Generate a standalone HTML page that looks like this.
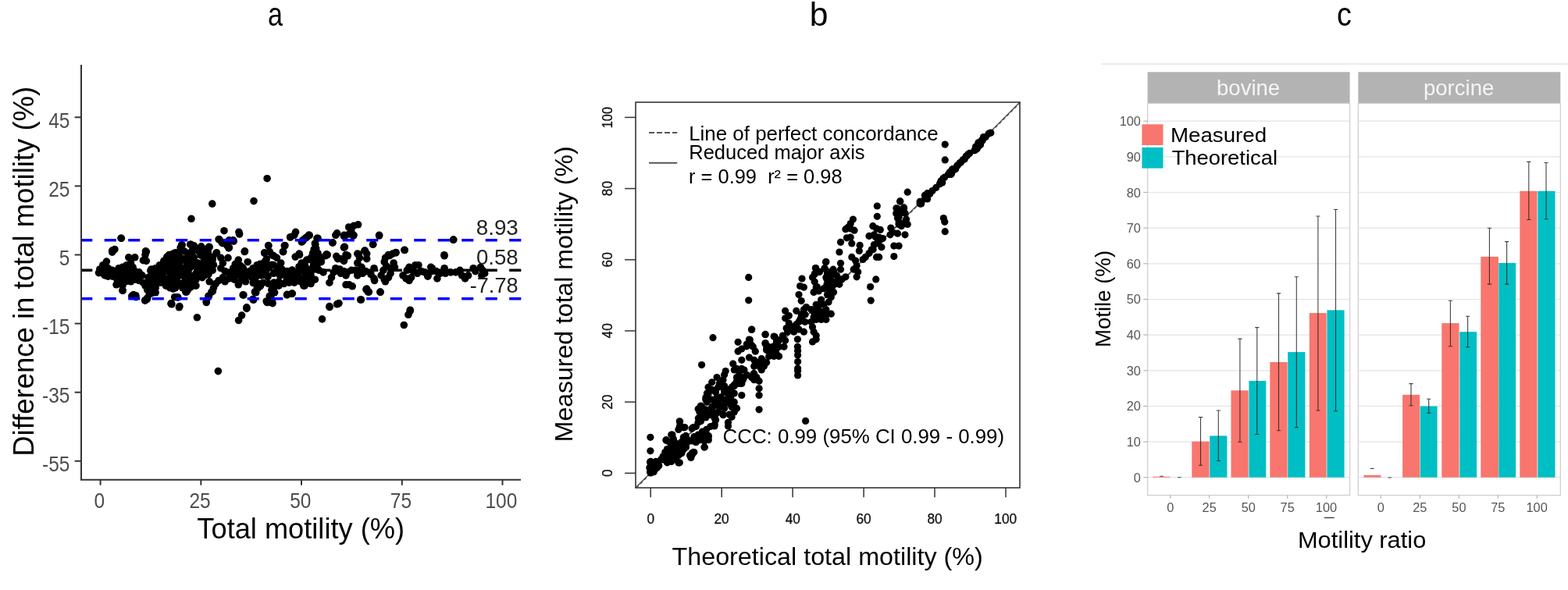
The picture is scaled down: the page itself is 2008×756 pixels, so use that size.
<!DOCTYPE html>
<html><head><meta charset="utf-8"><style>
html,body{margin:0;padding:0;background:#fff;width:2008px;height:756px;overflow:hidden;}
svg{display:block;}
text{font-family:"Liberation Sans",Arial,sans-serif;}
</style></head><body>
<svg width="2008" height="756" viewBox="0 0 2008 756">
<rect width="2008" height="756" fill="#fff"/>
<text x="343.06" y="33.40" font-size="43" textLength="18.98" lengthAdjust="spacingAndGlyphs" fill="#000">a</text>
<text x="1036.73" y="33.40" font-size="43" textLength="23.73" lengthAdjust="spacingAndGlyphs" fill="#000">b</text>
<text x="1712.10" y="33.40" font-size="43" textLength="18.84" lengthAdjust="spacingAndGlyphs" fill="#000">c</text>
<g fill="#000"><circle cx="342.1" cy="228.7" r="4.8"/><circle cx="325.0" cy="257.6" r="4.8"/><circle cx="271.8" cy="261.1" r="4.8"/><circle cx="245.0" cy="280.3" r="4.8"/><circle cx="287.0" cy="295.7" r="4.8"/><circle cx="305.9" cy="297.3" r="4.8"/><circle cx="155.1" cy="305.2" r="4.8"/><circle cx="378.6" cy="297.3" r="4.8"/><circle cx="372.3" cy="303.7" r="4.8"/><circle cx="396.1" cy="301.7" r="4.8"/><circle cx="388.1" cy="308.4" r="4.8"/><circle cx="281.0" cy="306.8" r="4.8"/><circle cx="285.0" cy="311.6" r="4.8"/><circle cx="292.9" cy="310.0" r="4.8"/><circle cx="299.2" cy="309.2" r="4.8"/><circle cx="292.9" cy="317.9" r="4.8"/><circle cx="313.5" cy="321.9" r="4.8"/><circle cx="343.7" cy="314.8" r="4.8"/><circle cx="338.9" cy="324.3" r="4.8"/><circle cx="348.4" cy="326.7" r="4.8"/><circle cx="364.3" cy="314.8" r="4.8"/><circle cx="362.7" cy="322.7" r="4.8"/><circle cx="143.7" cy="321.1" r="4.8"/><circle cx="146.9" cy="319.5" r="4.8"/><circle cx="186.5" cy="321.9" r="4.8"/><circle cx="232.6" cy="314.0" r="4.8"/><circle cx="243.7" cy="313.2" r="4.8"/><circle cx="248.4" cy="314.8" r="4.8"/><circle cx="246.9" cy="321.1" r="4.8"/><circle cx="256.4" cy="317.9" r="4.8"/><circle cx="262.7" cy="319.5" r="4.8"/><circle cx="267.5" cy="316.3" r="4.8"/><circle cx="242.1" cy="324.3" r="4.8"/><circle cx="227.8" cy="324.3" r="4.8"/><circle cx="277.0" cy="324.3" r="4.8"/><circle cx="458.6" cy="287.8" r="4.8"/><circle cx="453.0" cy="289.4" r="4.8"/><circle cx="446.7" cy="291.0" r="4.8"/><circle cx="449.8" cy="295.7" r="4.8"/><circle cx="453.0" cy="301.3" r="4.8"/><circle cx="441.9" cy="302.1" r="4.8"/><circle cx="431.6" cy="298.9" r="4.8"/><circle cx="485.6" cy="301.3" r="4.8"/><circle cx="580.8" cy="307.1" r="4.8"/><circle cx="395.9" cy="301.3" r="4.8"/><circle cx="391.1" cy="305.2" r="4.8"/><circle cx="386.3" cy="310.0" r="4.8"/><circle cx="407.0" cy="305.2" r="4.8"/><circle cx="403.8" cy="313.2" r="4.8"/><circle cx="402.2" cy="319.5" r="4.8"/><circle cx="400.6" cy="324.3" r="4.8"/><circle cx="407.0" cy="324.3" r="4.8"/><circle cx="426.0" cy="310.8" r="4.8"/><circle cx="441.1" cy="316.3" r="4.8"/><circle cx="477.6" cy="313.2" r="4.8"/><circle cx="467.3" cy="321.1" r="4.8"/><circle cx="459.4" cy="325.9" r="4.8"/><circle cx="445.1" cy="327.5" r="4.8"/><circle cx="518.1" cy="320.3" r="4.8"/><circle cx="507.0" cy="323.5" r="4.8"/><circle cx="499.0" cy="327.5" r="4.8"/><circle cx="568.9" cy="326.7" r="4.8"/><circle cx="418.1" cy="325.9" r="4.8"/><circle cx="383.2" cy="325.1" r="4.8"/><circle cx="430.8" cy="328.3" r="4.8"/><circle cx="155.3" cy="305.3" r="4.8"/><circle cx="145.0" cy="321.2" r="4.8"/><circle cx="143.7" cy="323.1" r="4.8"/><circle cx="187.3" cy="322.5" r="4.8"/><circle cx="186.0" cy="326.5" r="4.8"/><circle cx="183.4" cy="333.7" r="4.8"/><circle cx="187.3" cy="334.4" r="4.8"/><circle cx="164.8" cy="329.8" r="4.8"/><circle cx="172.8" cy="329.8" r="4.8"/><circle cx="136.4" cy="335.1" r="4.8"/><circle cx="131.8" cy="339.7" r="4.8"/><circle cx="127.8" cy="345.0" r="4.8"/><circle cx="126.5" cy="349.6" r="4.8"/><circle cx="130.5" cy="348.9" r="4.8"/><circle cx="134.4" cy="352.9" r="4.8"/><circle cx="138.4" cy="354.2" r="4.8"/><circle cx="134.4" cy="342.3" r="4.8"/><circle cx="138.4" cy="343.7" r="4.8"/><circle cx="143.7" cy="346.3" r="4.8"/><circle cx="147.7" cy="352.9" r="4.8"/><circle cx="150.3" cy="359.5" r="4.8"/><circle cx="149.0" cy="364.8" r="4.8"/><circle cx="156.9" cy="366.1" r="4.8"/><circle cx="160.9" cy="360.8" r="4.8"/><circle cx="154.3" cy="358.2" r="4.8"/><circle cx="156.9" cy="342.3" r="4.8"/><circle cx="162.2" cy="339.7" r="4.8"/><circle cx="167.5" cy="337.0" r="4.8"/><circle cx="170.1" cy="342.3" r="4.8"/><circle cx="164.8" cy="346.3" r="4.8"/><circle cx="159.6" cy="350.3" r="4.8"/><circle cx="167.5" cy="352.9" r="4.8"/><circle cx="172.8" cy="347.6" r="4.8"/><circle cx="178.1" cy="348.9" r="4.8"/><circle cx="182.0" cy="352.9" r="4.8"/><circle cx="174.1" cy="356.9" r="4.8"/><circle cx="167.5" cy="360.8" r="4.8"/><circle cx="178.1" cy="359.5" r="4.8"/><circle cx="183.4" cy="362.2" r="4.8"/><circle cx="186.0" cy="366.1" r="4.8"/><circle cx="188.7" cy="371.4" r="4.8"/><circle cx="191.3" cy="376.7" r="4.8"/><circle cx="196.6" cy="374.1" r="4.8"/><circle cx="199.2" cy="368.8" r="4.8"/><circle cx="193.9" cy="366.1" r="4.8"/><circle cx="191.3" cy="360.8" r="4.8"/><circle cx="190.0" cy="355.6" r="4.8"/><circle cx="193.9" cy="352.9" r="4.8"/><circle cx="193.9" cy="345.0" r="4.8"/><circle cx="199.2" cy="343.7" r="4.8"/><circle cx="204.5" cy="339.7" r="4.8"/><circle cx="209.8" cy="334.4" r="4.8"/><circle cx="213.8" cy="329.1" r="4.8"/><circle cx="217.8" cy="326.5" r="4.8"/><circle cx="221.7" cy="325.1" r="4.8"/><circle cx="216.4" cy="334.4" r="4.8"/><circle cx="220.4" cy="339.7" r="4.8"/><circle cx="212.5" cy="345.0" r="4.8"/><circle cx="207.2" cy="347.6" r="4.8"/><circle cx="204.5" cy="352.9" r="4.8"/><circle cx="209.8" cy="355.6" r="4.8"/><circle cx="215.1" cy="360.8" r="4.8"/><circle cx="212.5" cy="366.1" r="4.8"/><circle cx="217.8" cy="368.8" r="4.8"/><circle cx="221.7" cy="370.1" r="4.8"/><circle cx="204.5" cy="362.2" r="4.8"/><circle cx="199.2" cy="360.8" r="4.8"/><circle cx="156.9" cy="372.1" r="4.8"/><circle cx="171.5" cy="378.0" r="4.8"/><circle cx="168.8" cy="379.4" r="4.8"/><circle cx="174.1" cy="380.7" r="4.8"/><circle cx="186.0" cy="384.7" r="4.8"/><circle cx="188.7" cy="382.0" r="4.8"/><circle cx="219.1" cy="389.3" r="4.8"/><circle cx="223.7" cy="380.7" r="4.8"/><circle cx="233.2" cy="313.9" r="4.8"/><circle cx="244.4" cy="313.2" r="4.8"/><circle cx="248.4" cy="315.9" r="4.8"/><circle cx="257.7" cy="315.9" r="4.8"/><circle cx="268.2" cy="316.5" r="4.8"/><circle cx="227.2" cy="323.8" r="4.8"/><circle cx="221.9" cy="326.5" r="4.8"/><circle cx="216.6" cy="327.8" r="4.8"/><circle cx="266.9" cy="326.5" r="4.8"/><circle cx="272.2" cy="333.1" r="4.8"/><circle cx="273.5" cy="339.7" r="4.8"/><circle cx="272.2" cy="346.3" r="4.8"/><circle cx="266.9" cy="351.6" r="4.8"/><circle cx="261.6" cy="352.9" r="4.8"/><circle cx="253.7" cy="352.9" r="4.8"/><circle cx="248.4" cy="355.6" r="4.8"/><circle cx="240.5" cy="352.9" r="4.8"/><circle cx="233.8" cy="352.9" r="4.8"/><circle cx="227.2" cy="355.6" r="4.8"/><circle cx="221.9" cy="359.5" r="4.8"/><circle cx="218.0" cy="363.5" r="4.8"/><circle cx="214.0" cy="366.1" r="4.8"/><circle cx="220.6" cy="339.7" r="4.8"/><circle cx="229.9" cy="337.0" r="4.8"/><circle cx="240.5" cy="339.7" r="4.8"/><circle cx="251.0" cy="339.7" r="4.8"/><circle cx="260.3" cy="339.7" r="4.8"/><circle cx="227.2" cy="346.3" r="4.8"/><circle cx="240.5" cy="346.3" r="4.8"/><circle cx="253.7" cy="346.3" r="4.8"/><circle cx="264.3" cy="343.7" r="4.8"/><circle cx="216.6" cy="334.4" r="4.8"/><circle cx="221.9" cy="331.7" r="4.8"/><circle cx="240.5" cy="329.1" r="4.8"/><circle cx="248.4" cy="330.4" r="4.8"/><circle cx="233.8" cy="331.7" r="4.8"/><circle cx="226.0" cy="330.0" r="4.8"/><circle cx="257.0" cy="327.0" r="4.8"/><circle cx="262.0" cy="332.0" r="4.8"/><circle cx="246.0" cy="322.0" r="4.8"/><circle cx="236.0" cy="322.0" r="4.8"/><circle cx="229.9" cy="363.5" r="4.8"/><circle cx="224.6" cy="368.8" r="4.8"/><circle cx="221.9" cy="367.5" r="4.8"/><circle cx="237.8" cy="360.8" r="4.8"/><circle cx="245.7" cy="359.5" r="4.8"/><circle cx="247.1" cy="366.1" r="4.8"/><circle cx="251.0" cy="366.1" r="4.8"/><circle cx="240.5" cy="371.4" r="4.8"/><circle cx="237.8" cy="374.1" r="4.8"/><circle cx="233.8" cy="368.8" r="4.8"/><circle cx="227.2" cy="380.7" r="4.8"/><circle cx="219.3" cy="388.6" r="4.8"/><circle cx="229.9" cy="392.6" r="4.8"/><circle cx="264.3" cy="386.0" r="4.8"/><circle cx="266.9" cy="379.4" r="4.8"/><circle cx="270.9" cy="374.1" r="4.8"/><circle cx="273.5" cy="368.8" r="4.8"/><circle cx="276.2" cy="363.5" r="4.8"/><circle cx="268.2" cy="360.8" r="4.8"/><circle cx="277.5" cy="323.8" r="4.8"/><circle cx="282.8" cy="330.4" r="4.8"/><circle cx="292.0" cy="330.4" r="4.8"/><circle cx="285.4" cy="337.0" r="4.8"/><circle cx="282.8" cy="343.7" r="4.8"/><circle cx="288.1" cy="347.6" r="4.8"/><circle cx="293.4" cy="350.3" r="4.8"/><circle cx="285.4" cy="355.6" r="4.8"/><circle cx="280.1" cy="359.5" r="4.8"/><circle cx="288.1" cy="360.8" r="4.8"/><circle cx="293.4" cy="356.9" r="4.8"/><circle cx="280.1" cy="306.6" r="4.8"/><circle cx="284.1" cy="310.6" r="4.8"/><circle cx="293.4" cy="307.9" r="4.8"/><circle cx="298.7" cy="307.9" r="4.8"/><circle cx="293.4" cy="317.2" r="4.8"/><circle cx="290.7" cy="314.6" r="4.8"/><circle cx="313.2" cy="322.5" r="4.8"/><circle cx="305.3" cy="333.1" r="4.8"/><circle cx="301.3" cy="338.4" r="4.8"/><circle cx="298.7" cy="343.7" r="4.8"/><circle cx="306.6" cy="341.0" r="4.8"/><circle cx="317.2" cy="335.7" r="4.8"/><circle cx="311.9" cy="345.0" r="4.8"/><circle cx="306.6" cy="348.9" r="4.8"/><circle cx="301.3" cy="352.9" r="4.8"/><circle cx="298.7" cy="350.3" r="4.8"/><circle cx="309.2" cy="355.6" r="4.8"/><circle cx="317.2" cy="352.9" r="4.8"/><circle cx="322.5" cy="355.6" r="4.8"/><circle cx="327.8" cy="352.9" r="4.8"/><circle cx="330.4" cy="342.3" r="4.8"/><circle cx="333.0" cy="338.4" r="4.8"/><circle cx="325.1" cy="347.6" r="4.8"/><circle cx="319.8" cy="347.6" r="4.8"/><circle cx="314.5" cy="360.8" r="4.8"/><circle cx="305.3" cy="364.8" r="4.8"/><circle cx="300.0" cy="358.2" r="4.8"/><circle cx="311.9" cy="378.0" r="4.8"/><circle cx="315.9" cy="393.9" r="4.8"/><circle cx="323.8" cy="383.3" r="4.8"/><circle cx="326.4" cy="374.1" r="4.8"/><circle cx="330.4" cy="368.8" r="4.8"/><circle cx="329.1" cy="363.5" r="4.8"/><circle cx="306.6" cy="300.0" r="4.8"/><circle cx="371.6" cy="304.0" r="4.8"/><circle cx="376.9" cy="301.3" r="4.8"/><circle cx="387.5" cy="307.9" r="4.8"/><circle cx="392.8" cy="304.0" r="4.8"/><circle cx="395.4" cy="301.3" r="4.8"/><circle cx="406.0" cy="305.3" r="4.8"/><circle cx="403.4" cy="311.9" r="4.8"/><circle cx="404.7" cy="318.5" r="4.8"/><circle cx="402.0" cy="323.8" r="4.8"/><circle cx="425.9" cy="311.2" r="4.8"/><circle cx="429.8" cy="301.3" r="4.8"/><circle cx="440.4" cy="302.6" r="4.8"/><circle cx="440.4" cy="317.2" r="4.8"/><circle cx="443.0" cy="326.5" r="4.8"/><circle cx="432.5" cy="331.7" r="4.8"/><circle cx="440.4" cy="334.4" r="4.8"/><circle cx="343.8" cy="314.6" r="4.8"/><circle cx="338.6" cy="323.8" r="4.8"/><circle cx="345.2" cy="322.5" r="4.8"/><circle cx="350.5" cy="327.8" r="4.8"/><circle cx="354.4" cy="330.4" r="4.8"/><circle cx="359.7" cy="337.0" r="4.8"/><circle cx="365.0" cy="314.6" r="4.8"/><circle cx="362.4" cy="322.5" r="4.8"/><circle cx="378.2" cy="329.1" r="4.8"/><circle cx="383.5" cy="326.5" r="4.8"/><circle cx="386.2" cy="337.0" r="4.8"/><circle cx="392.8" cy="333.1" r="4.8"/><circle cx="398.1" cy="330.4" r="4.8"/><circle cx="403.4" cy="326.5" r="4.8"/><circle cx="408.7" cy="329.1" r="4.8"/><circle cx="416.6" cy="327.8" r="4.8"/><circle cx="419.2" cy="326.5" r="4.8"/><circle cx="411.3" cy="335.7" r="4.8"/><circle cx="406.0" cy="339.7" r="4.8"/><circle cx="400.7" cy="342.3" r="4.8"/><circle cx="324.0" cy="343.7" r="4.8"/><circle cx="329.3" cy="339.7" r="4.8"/><circle cx="334.6" cy="339.7" r="4.8"/><circle cx="337.2" cy="346.3" r="4.8"/><circle cx="343.8" cy="343.7" r="4.8"/><circle cx="350.5" cy="339.7" r="4.8"/><circle cx="355.7" cy="343.7" r="4.8"/><circle cx="361.0" cy="345.0" r="4.8"/><circle cx="367.7" cy="347.6" r="4.8"/><circle cx="374.3" cy="348.9" r="4.8"/><circle cx="380.9" cy="348.9" r="4.8"/><circle cx="386.2" cy="346.3" r="4.8"/><circle cx="392.8" cy="345.0" r="4.8"/><circle cx="398.1" cy="346.3" r="4.8"/><circle cx="403.4" cy="345.0" r="4.8"/><circle cx="408.7" cy="346.3" r="4.8"/><circle cx="414.0" cy="348.9" r="4.8"/><circle cx="326.6" cy="352.9" r="4.8"/><circle cx="334.6" cy="352.9" r="4.8"/><circle cx="342.5" cy="352.9" r="4.8"/><circle cx="350.5" cy="350.3" r="4.8"/><circle cx="358.4" cy="352.9" r="4.8"/><circle cx="366.3" cy="352.9" r="4.8"/><circle cx="374.3" cy="355.6" r="4.8"/><circle cx="382.2" cy="354.2" r="4.8"/><circle cx="390.1" cy="355.6" r="4.8"/><circle cx="398.1" cy="354.2" r="4.8"/><circle cx="403.4" cy="358.2" r="4.8"/><circle cx="395.4" cy="362.2" r="4.8"/><circle cx="390.1" cy="366.1" r="4.8"/><circle cx="384.8" cy="360.8" r="4.8"/><circle cx="331.9" cy="363.5" r="4.8"/><circle cx="329.3" cy="368.8" r="4.8"/><circle cx="326.6" cy="374.1" r="4.8"/><circle cx="337.2" cy="362.2" r="4.8"/><circle cx="343.8" cy="363.5" r="4.8"/><circle cx="350.5" cy="366.1" r="4.8"/><circle cx="357.1" cy="366.1" r="4.8"/><circle cx="363.7" cy="363.5" r="4.8"/><circle cx="370.3" cy="362.2" r="4.8"/><circle cx="376.9" cy="362.2" r="4.8"/><circle cx="357.1" cy="360.8" r="4.8"/><circle cx="347.8" cy="371.4" r="4.8"/><circle cx="345.2" cy="379.4" r="4.8"/><circle cx="341.2" cy="386.0" r="4.8"/><circle cx="349.1" cy="388.6" r="4.8"/><circle cx="346.5" cy="387.3" r="4.8"/><circle cx="367.7" cy="377.4" r="4.8"/><circle cx="374.3" cy="376.1" r="4.8"/><circle cx="388.8" cy="366.1" r="4.8"/><circle cx="398.1" cy="363.5" r="4.8"/><circle cx="421.9" cy="362.2" r="4.8"/><circle cx="424.5" cy="355.6" r="4.8"/><circle cx="427.2" cy="348.9" r="4.8"/><circle cx="429.8" cy="343.7" r="4.8"/><circle cx="435.1" cy="345.0" r="4.8"/><circle cx="440.4" cy="347.6" r="4.8"/><circle cx="443.0" cy="352.9" r="4.8"/><circle cx="436.4" cy="350.3" r="4.8"/><circle cx="443.0" cy="364.8" r="4.8"/><circle cx="421.9" cy="392.6" r="4.8"/><circle cx="432.5" cy="389.3" r="4.8"/><circle cx="440.6" cy="301.3" r="4.8"/><circle cx="452.5" cy="302.0" r="4.8"/><circle cx="447.2" cy="300.0" r="4.8"/><circle cx="485.6" cy="302.0" r="4.8"/><circle cx="477.7" cy="313.2" r="4.8"/><circle cx="441.3" cy="316.5" r="4.8"/><circle cx="445.2" cy="327.8" r="4.8"/><circle cx="440.6" cy="333.1" r="4.8"/><circle cx="436.6" cy="331.7" r="4.8"/><circle cx="457.8" cy="325.1" r="4.8"/><circle cx="467.1" cy="321.2" r="4.8"/><circle cx="469.7" cy="325.1" r="4.8"/><circle cx="469.7" cy="331.7" r="4.8"/><circle cx="460.5" cy="330.4" r="4.8"/><circle cx="457.8" cy="337.0" r="4.8"/><circle cx="463.1" cy="342.3" r="4.8"/><circle cx="460.5" cy="346.3" r="4.8"/><circle cx="455.2" cy="346.3" r="4.8"/><circle cx="449.9" cy="346.3" r="4.8"/><circle cx="444.6" cy="348.9" r="4.8"/><circle cx="439.3" cy="348.9" r="4.8"/><circle cx="434.0" cy="347.6" r="4.8"/><circle cx="457.8" cy="352.9" r="4.8"/><circle cx="464.4" cy="350.3" r="4.8"/><circle cx="468.4" cy="347.6" r="4.8"/><circle cx="479.0" cy="343.7" r="4.8"/><circle cx="475.0" cy="351.6" r="4.8"/><circle cx="479.0" cy="356.9" r="4.8"/><circle cx="479.6" cy="359.5" r="4.8"/><circle cx="447.2" cy="364.8" r="4.8"/><circle cx="451.2" cy="366.8" r="4.8"/><circle cx="469.7" cy="370.1" r="4.8"/><circle cx="472.4" cy="374.1" r="4.8"/><circle cx="486.9" cy="374.1" r="4.8"/><circle cx="462.4" cy="384.0" r="4.8"/><circle cx="434.0" cy="388.6" r="4.8"/><circle cx="493.5" cy="330.4" r="4.8"/><circle cx="497.5" cy="326.5" r="4.8"/><circle cx="502.8" cy="325.1" r="4.8"/><circle cx="506.8" cy="323.8" r="4.8"/><circle cx="492.2" cy="335.7" r="4.8"/><circle cx="494.8" cy="341.0" r="4.8"/><circle cx="490.9" cy="346.3" r="4.8"/><circle cx="488.2" cy="352.9" r="4.8"/><circle cx="492.2" cy="358.2" r="4.8"/><circle cx="493.5" cy="360.8" r="4.8"/><circle cx="497.5" cy="355.6" r="4.8"/><circle cx="500.1" cy="350.3" r="4.8"/><circle cx="504.1" cy="337.0" r="4.8"/><circle cx="505.4" cy="342.3" r="4.8"/><circle cx="500.1" cy="343.7" r="4.8"/><circle cx="518.0" cy="320.5" r="4.8"/><circle cx="524.0" cy="342.3" r="4.8"/><circle cx="531.9" cy="339.7" r="4.8"/><circle cx="535.9" cy="339.7" r="4.8"/><circle cx="529.2" cy="347.6" r="4.8"/><circle cx="521.3" cy="346.3" r="4.8"/><circle cx="516.0" cy="352.9" r="4.8"/><circle cx="520.0" cy="356.9" r="4.8"/><circle cx="524.0" cy="359.5" r="4.8"/><circle cx="526.6" cy="355.6" r="4.8"/><circle cx="534.5" cy="350.3" r="4.8"/><circle cx="539.8" cy="347.6" r="4.8"/><circle cx="546.4" cy="350.3" r="4.8"/><circle cx="547.8" cy="354.2" r="4.8"/><circle cx="551.7" cy="342.3" r="4.8"/><circle cx="553.0" cy="347.6" r="4.8"/><circle cx="525.3" cy="397.2" r="4.8"/><circle cx="580.4" cy="307.3" r="4.8"/><circle cx="569.1" cy="327.8" r="4.8"/><circle cx="544.0" cy="348.9" r="4.8"/><circle cx="548.0" cy="352.9" r="4.8"/><circle cx="553.3" cy="343.7" r="4.8"/><circle cx="558.6" cy="347.6" r="4.8"/><circle cx="559.9" cy="356.9" r="4.8"/><circle cx="563.8" cy="350.3" r="4.8"/><circle cx="569.1" cy="343.7" r="4.8"/><circle cx="570.5" cy="350.3" r="4.8"/><circle cx="577.1" cy="348.9" r="4.8"/><circle cx="583.7" cy="348.9" r="4.8"/><circle cx="589.0" cy="346.3" r="4.8"/><circle cx="591.6" cy="352.9" r="4.8"/><circle cx="595.6" cy="356.9" r="4.8"/><circle cx="599.6" cy="352.9" r="4.8"/><circle cx="606.2" cy="343.7" r="4.8"/><circle cx="608.8" cy="347.6" r="4.8"/><circle cx="615.4" cy="342.3" r="4.8"/><circle cx="618.1" cy="346.3" r="4.8"/><circle cx="620.7" cy="350.3" r="4.8"/><circle cx="616.8" cy="352.9" r="4.8"/><circle cx="157.2" cy="372.4" r="4.8"/><circle cx="170.7" cy="377.9" r="4.8"/><circle cx="173.8" cy="378.7" r="4.8"/><circle cx="185.7" cy="385.1" r="4.8"/><circle cx="188.1" cy="383.5" r="4.8"/><circle cx="194.5" cy="375.6" r="4.8"/><circle cx="199.2" cy="374.8" r="4.8"/><circle cx="219.9" cy="389.8" r="4.8"/><circle cx="229.4" cy="393.8" r="4.8"/><circle cx="227.8" cy="381.1" r="4.8"/><circle cx="238.9" cy="374.0" r="4.8"/><circle cx="252.4" cy="406.8" r="4.8"/><circle cx="264.3" cy="387.5" r="4.8"/><circle cx="267.5" cy="379.5" r="4.8"/><circle cx="272.3" cy="373.2" r="4.8"/><circle cx="279.4" cy="475.6" r="4.8"/><circle cx="311.1" cy="377.9" r="4.8"/><circle cx="315.9" cy="395.4" r="4.8"/><circle cx="309.6" cy="404.1" r="4.8"/><circle cx="305.6" cy="410.5" r="4.8"/><circle cx="324.6" cy="384.3" r="4.8"/><circle cx="327.8" cy="374.8" r="4.8"/><circle cx="342.1" cy="387.5" r="4.8"/><circle cx="348.4" cy="385.9" r="4.8"/><circle cx="346.9" cy="379.5" r="4.8"/><circle cx="351.6" cy="374.8" r="4.8"/><circle cx="367.5" cy="377.9" r="4.8"/><circle cx="373.8" cy="376.3" r="4.8"/><circle cx="412.5" cy="408.9" r="4.8"/><circle cx="422.1" cy="393.5" r="4.8"/><circle cx="431.6" cy="389.8" r="4.8"/><circle cx="461.7" cy="384.0" r="4.8"/><circle cx="471.3" cy="374.0" r="4.8"/><circle cx="468.9" cy="370.8" r="4.8"/><circle cx="487.1" cy="374.4" r="4.8"/><circle cx="525.2" cy="398.6" r="4.8"/><circle cx="522.9" cy="403.3" r="4.8"/><circle cx="517.3" cy="416.5" r="4.8"/><circle cx="221.9" cy="333.1" r="4.8"/><circle cx="229.9" cy="330.4" r="4.8"/><circle cx="237.8" cy="334.4" r="4.8"/><circle cx="245.7" cy="334.4" r="4.8"/><circle cx="253.7" cy="337.0" r="4.8"/><circle cx="261.6" cy="339.7" r="4.8"/><circle cx="269.6" cy="339.7" r="4.8"/><circle cx="221.9" cy="339.7" r="4.8"/><circle cx="229.9" cy="343.7" r="4.8"/><circle cx="237.8" cy="342.3" r="4.8"/><circle cx="245.7" cy="341.0" r="4.8"/><circle cx="253.7" cy="343.7" r="4.8"/><circle cx="261.6" cy="346.3" r="4.8"/><circle cx="269.6" cy="343.7" r="4.8"/><circle cx="219.3" cy="352.9" r="4.8"/><circle cx="227.2" cy="351.6" r="4.8"/><circle cx="235.2" cy="351.6" r="4.8"/><circle cx="243.1" cy="352.9" r="4.8"/><circle cx="251.0" cy="350.3" r="4.8"/><circle cx="259.0" cy="351.6" r="4.8"/><circle cx="266.9" cy="350.3" r="4.8"/><circle cx="218.0" cy="359.5" r="4.8"/><circle cx="243.1" cy="360.8" r="4.8"/><circle cx="251.0" cy="358.2" r="4.8"/><circle cx="259.0" cy="355.6" r="4.8"/><circle cx="221.9" cy="368.8" r="4.8"/><circle cx="240.5" cy="368.8" r="4.8"/><circle cx="248.4" cy="363.5" r="4.8"/><circle cx="216.6" cy="326.5" r="4.8"/><circle cx="224.6" cy="323.8" r="4.8"/><circle cx="231.2" cy="317.2" r="4.8"/><circle cx="247.1" cy="319.8" r="4.8"/><circle cx="262.9" cy="322.5" r="4.8"/><circle cx="269.6" cy="333.1" r="4.8"/><circle cx="215.3" cy="347.6" r="4.8"/><circle cx="233.8" cy="363.5" r="4.8"/><circle cx="132.1" cy="350.6" r="4.8"/><circle cx="130.1" cy="347.1" r="4.8"/><circle cx="221.7" cy="328.7" r="4.8"/><circle cx="210.2" cy="340.2" r="4.8"/><circle cx="144.1" cy="354.2" r="4.8"/><circle cx="192.8" cy="346.8" r="4.8"/><circle cx="157.1" cy="354.3" r="4.8"/><circle cx="203.9" cy="359.7" r="4.8"/><circle cx="150.3" cy="353.8" r="4.8"/><circle cx="222.0" cy="332.1" r="4.8"/><circle cx="141.3" cy="349.7" r="4.8"/><circle cx="201.0" cy="353.7" r="4.8"/><circle cx="211.8" cy="341.4" r="4.8"/><circle cx="194.3" cy="354.8" r="4.8"/><circle cx="172.7" cy="358.1" r="4.8"/><circle cx="206.6" cy="340.0" r="4.8"/><circle cx="164.1" cy="358.3" r="4.8"/><circle cx="128.7" cy="348.4" r="4.8"/><circle cx="134.3" cy="347.8" r="4.8"/><circle cx="153.6" cy="346.2" r="4.8"/><circle cx="219.9" cy="333.6" r="4.8"/><circle cx="149.2" cy="349.5" r="4.8"/><circle cx="162.5" cy="353.4" r="4.8"/><circle cx="219.4" cy="359.3" r="4.8"/><circle cx="176.7" cy="355.9" r="4.8"/><circle cx="214.2" cy="363.6" r="4.8"/><circle cx="211.7" cy="364.4" r="4.8"/><circle cx="164.7" cy="345.5" r="4.8"/><circle cx="136.4" cy="343.8" r="4.8"/><circle cx="171.9" cy="349.5" r="4.8"/><circle cx="210.6" cy="359.6" r="4.8"/><circle cx="151.9" cy="343.9" r="4.8"/><circle cx="206.3" cy="361.7" r="4.8"/><circle cx="148.6" cy="351.1" r="4.8"/><circle cx="151.8" cy="359.4" r="4.8"/><circle cx="219.7" cy="347.8" r="4.8"/><circle cx="219.6" cy="343.8" r="4.8"/><circle cx="208.4" cy="349.3" r="4.8"/><circle cx="190.1" cy="364.5" r="4.8"/><circle cx="215.2" cy="363.7" r="4.8"/><circle cx="199.6" cy="349.2" r="4.8"/><circle cx="221.2" cy="345.3" r="4.8"/><circle cx="214.7" cy="364.9" r="4.8"/><circle cx="222.1" cy="357.8" r="4.8"/><circle cx="160.6" cy="352.6" r="4.8"/><circle cx="221.1" cy="357.4" r="4.8"/><circle cx="149.9" cy="354.4" r="4.8"/><circle cx="151.8" cy="346.4" r="4.8"/><circle cx="161.0" cy="348.3" r="4.8"/><circle cx="175.4" cy="351.8" r="4.8"/><circle cx="246.5" cy="315.6" r="4.8"/><circle cx="241.4" cy="325.0" r="4.8"/><circle cx="214.2" cy="360.0" r="4.8"/><circle cx="224.7" cy="341.5" r="4.8"/><circle cx="259.1" cy="346.2" r="4.8"/><circle cx="234.3" cy="344.0" r="4.8"/><circle cx="248.5" cy="359.2" r="4.8"/><circle cx="220.6" cy="346.4" r="4.8"/><circle cx="229.4" cy="330.3" r="4.8"/><circle cx="262.0" cy="343.4" r="4.8"/><circle cx="248.9" cy="357.8" r="4.8"/><circle cx="270.7" cy="339.8" r="4.8"/><circle cx="252.1" cy="343.3" r="4.8"/><circle cx="245.8" cy="354.0" r="4.8"/><circle cx="242.1" cy="344.9" r="4.8"/><circle cx="243.7" cy="368.1" r="4.8"/><circle cx="272.6" cy="329.3" r="4.8"/><circle cx="266.2" cy="322.4" r="4.8"/><circle cx="221.6" cy="339.7" r="4.8"/><circle cx="218.5" cy="328.2" r="4.8"/><circle cx="218.5" cy="352.6" r="4.8"/><circle cx="223.6" cy="355.3" r="4.8"/><circle cx="255.0" cy="322.7" r="4.8"/><circle cx="238.8" cy="342.3" r="4.8"/><circle cx="224.0" cy="339.1" r="4.8"/><circle cx="246.1" cy="333.8" r="4.8"/><circle cx="226.2" cy="332.7" r="4.8"/><circle cx="248.4" cy="339.6" r="4.8"/><circle cx="215.1" cy="333.4" r="4.8"/><circle cx="252.8" cy="343.7" r="4.8"/><circle cx="220.5" cy="329.7" r="4.8"/><circle cx="216.5" cy="358.9" r="4.8"/><circle cx="230.8" cy="321.9" r="4.8"/><circle cx="240.3" cy="366.4" r="4.8"/><circle cx="264.9" cy="329.3" r="4.8"/><circle cx="223.3" cy="366.8" r="4.8"/><circle cx="249.5" cy="354.4" r="4.8"/><circle cx="256.8" cy="338.7" r="4.8"/><circle cx="218.5" cy="367.9" r="4.8"/><circle cx="219.2" cy="363.3" r="4.8"/><circle cx="218.1" cy="363.6" r="4.8"/><circle cx="242.2" cy="333.8" r="4.8"/><circle cx="230.7" cy="321.9" r="4.8"/><circle cx="246.8" cy="328.1" r="4.8"/><circle cx="233.4" cy="331.9" r="4.8"/><circle cx="261.2" cy="331.0" r="4.8"/><circle cx="245.1" cy="324.7" r="4.8"/><circle cx="259.6" cy="345.9" r="4.8"/><circle cx="225.8" cy="341.6" r="4.8"/><circle cx="264.9" cy="339.1" r="4.8"/><circle cx="244.8" cy="362.0" r="4.8"/><circle cx="238.4" cy="343.4" r="4.8"/><circle cx="235.3" cy="361.9" r="4.8"/><circle cx="257.9" cy="350.7" r="4.8"/><circle cx="239.2" cy="334.3" r="4.8"/><circle cx="218.4" cy="356.7" r="4.8"/><circle cx="229.9" cy="323.8" r="4.8"/><circle cx="219.3" cy="362.4" r="4.8"/><circle cx="329.1" cy="353.5" r="4.8"/><circle cx="306.7" cy="340.4" r="4.8"/><circle cx="307.1" cy="347.0" r="4.8"/><circle cx="302.0" cy="346.6" r="4.8"/><circle cx="306.0" cy="362.3" r="4.8"/><circle cx="332.9" cy="349.7" r="4.8"/><circle cx="307.8" cy="343.9" r="4.8"/><circle cx="314.0" cy="348.4" r="4.8"/><circle cx="303.6" cy="348.4" r="4.8"/><circle cx="299.4" cy="345.2" r="4.8"/><circle cx="307.6" cy="340.2" r="4.8"/><circle cx="318.2" cy="349.2" r="4.8"/><circle cx="324.5" cy="353.1" r="4.8"/><circle cx="310.8" cy="343.0" r="4.8"/><circle cx="323.5" cy="352.6" r="4.8"/><circle cx="329.9" cy="352.2" r="4.8"/><circle cx="336.5" cy="352.0" r="4.8"/><circle cx="385.4" cy="359.9" r="4.8"/><circle cx="336.0" cy="344.5" r="4.8"/><circle cx="333.4" cy="366.5" r="4.8"/><circle cx="374.2" cy="356.8" r="4.8"/><circle cx="380.3" cy="359.3" r="4.8"/><circle cx="369.2" cy="352.6" r="4.8"/><circle cx="390.3" cy="339.5" r="4.8"/><circle cx="330.7" cy="340.1" r="4.8"/><circle cx="389.6" cy="337.3" r="4.8"/><circle cx="367.1" cy="359.4" r="4.8"/><circle cx="393.0" cy="356.3" r="4.8"/><circle cx="337.3" cy="339.5" r="4.8"/><circle cx="390.9" cy="341.9" r="4.8"/><circle cx="329.5" cy="340.2" r="4.8"/><circle cx="384.4" cy="359.8" r="4.8"/><circle cx="384.8" cy="341.2" r="4.8"/><circle cx="370.5" cy="349.3" r="4.8"/><circle cx="404.4" cy="337.0" r="4.8"/><circle cx="325.6" cy="349.0" r="4.8"/><circle cx="343.0" cy="354.7" r="4.8"/><circle cx="336.7" cy="352.0" r="4.8"/><circle cx="409.7" cy="333.9" r="4.8"/><circle cx="397.8" cy="351.3" r="4.8"/><circle cx="324.3" cy="350.5" r="4.8"/><circle cx="336.7" cy="343.7" r="4.8"/><circle cx="352.4" cy="366.7" r="4.8"/><circle cx="324.2" cy="362.5" r="4.8"/><circle cx="399.5" cy="333.3" r="4.8"/><circle cx="405.1" cy="341.2" r="4.8"/><circle cx="357.5" cy="346.0" r="4.8"/><circle cx="356.4" cy="347.6" r="4.8"/><circle cx="333.1" cy="366.4" r="4.8"/><circle cx="346.4" cy="340.1" r="4.8"/><circle cx="389.9" cy="348.7" r="4.8"/><circle cx="391.7" cy="357.6" r="4.8"/><circle cx="407.4" cy="333.7" r="4.8"/><circle cx="350.8" cy="362.0" r="4.8"/><circle cx="383.0" cy="341.7" r="4.8"/><circle cx="374.1" cy="346.0" r="4.8"/><circle cx="339.1" cy="335.3" r="4.8"/><circle cx="341.3" cy="332.0" r="4.8"/><circle cx="345.5" cy="339.7" r="4.8"/><circle cx="391.4" cy="346.9" r="4.8"/><circle cx="361.2" cy="352.0" r="4.8"/><circle cx="357.9" cy="343.4" r="4.8"/><circle cx="329.6" cy="340.6" r="4.8"/><circle cx="411.0" cy="333.6" r="4.8"/><circle cx="369.3" cy="356.9" r="4.8"/><circle cx="401.6" cy="337.8" r="4.8"/><circle cx="348.4" cy="339.3" r="4.8"/><circle cx="360.0" cy="348.4" r="4.8"/><circle cx="402.5" cy="328.8" r="4.8"/><circle cx="326.9" cy="360.6" r="4.8"/></g>
<g stroke-width="3.6" stroke-dasharray="15.1 15.4" fill="none">
<line x1="103.2" y1="307.8" x2="667.3" y2="307.8" stroke="#0000ff"/>
<line x1="103.2" y1="382.8" x2="667.3" y2="382.8" stroke="#0000ff"/>
<line x1="103.2" y1="346.3" x2="667.3" y2="346.3" stroke="#000"/>
</g>
<path d="M104 83V614.8H667" stroke="#333" stroke-width="2" fill="none"/>
<line x1="95.7" y1="150.3" x2="104" y2="150.3" stroke="#333" stroke-width="2"/>
<line x1="95.7" y1="238.4" x2="104" y2="238.4" stroke="#333" stroke-width="2"/>
<line x1="95.7" y1="326.5" x2="104" y2="326.5" stroke="#333" stroke-width="2"/>
<line x1="95.7" y1="414.6" x2="104" y2="414.6" stroke="#333" stroke-width="2"/>
<line x1="95.7" y1="502.7" x2="104" y2="502.7" stroke="#333" stroke-width="2"/>
<line x1="95.7" y1="590.8" x2="104" y2="590.8" stroke="#333" stroke-width="2"/>
<line x1="128.6" y1="614.8" x2="128.6" y2="621.7" stroke="#333" stroke-width="2"/>
<line x1="257.3" y1="614.8" x2="257.3" y2="621.7" stroke="#333" stroke-width="2"/>
<line x1="386.0" y1="614.8" x2="386.0" y2="621.7" stroke="#333" stroke-width="2"/>
<line x1="514.8" y1="614.8" x2="514.8" y2="621.7" stroke="#333" stroke-width="2"/>
<line x1="643.5" y1="614.8" x2="643.5" y2="621.7" stroke="#333" stroke-width="2"/>
<text x="62.19" y="163.60" font-size="28" textLength="27.25" lengthAdjust="spacingAndGlyphs" fill="#4d4d4d">45</text>
<text x="62.19" y="251.70" font-size="28" textLength="27.25" lengthAdjust="spacingAndGlyphs" fill="#4d4d4d">25</text>
<text x="75.78" y="339.80" font-size="28" textLength="13.63" lengthAdjust="spacingAndGlyphs" fill="#4d4d4d">5</text>
<text x="53.98" y="427.90" font-size="28" textLength="35.41" lengthAdjust="spacingAndGlyphs" fill="#4d4d4d">-15</text>
<text x="53.98" y="516.00" font-size="28" textLength="35.41" lengthAdjust="spacingAndGlyphs" fill="#4d4d4d">-35</text>
<text x="53.98" y="604.10" font-size="28" textLength="35.41" lengthAdjust="spacingAndGlyphs" fill="#4d4d4d">-55</text>
<text x="120.60" y="651.00" font-size="28" textLength="13.63" lengthAdjust="spacingAndGlyphs" fill="#4d4d4d">0</text>
<text x="242.41" y="651.00" font-size="28" textLength="27.25" lengthAdjust="spacingAndGlyphs" fill="#4d4d4d">25</text>
<text x="371.25" y="651.00" font-size="28" textLength="27.25" lengthAdjust="spacingAndGlyphs" fill="#4d4d4d">50</text>
<text x="499.85" y="651.00" font-size="28" textLength="27.25" lengthAdjust="spacingAndGlyphs" fill="#4d4d4d">75</text>
<text x="621.48" y="651.00" font-size="28" textLength="40.88" lengthAdjust="spacingAndGlyphs" fill="#4d4d4d">100</text>
<text x="252.38" y="690.20" font-size="36" textLength="265.66" lengthAdjust="spacingAndGlyphs" fill="#000">Total motility (%)</text>
<text transform="translate(43.40,581.90) rotate(-90)" x="-2.92" y="0" font-size="36" textLength="473.95" lengthAdjust="spacingAndGlyphs" fill="#000">Difference in total motility (%)</text>
<text x="609.75" y="301.40" font-size="27.2" textLength="54.04" lengthAdjust="spacingAndGlyphs" fill="#222">8.93</text>
<text x="609.90" y="338.80" font-size="27.2" textLength="53.75" lengthAdjust="spacingAndGlyphs" fill="#222">0.58</text>
<text x="601.78" y="374.80" font-size="27.2" textLength="61.79" lengthAdjust="spacingAndGlyphs" fill="#222">-7.78</text>
<line x1="815.2" y1="625" x2="1306" y2="132.2" stroke="#666" stroke-width="1.3" stroke-dasharray="4 3"/>
<line x1="814" y1="625" x2="1306" y2="131" stroke="#444" stroke-width="1.3"/>
<g fill="#000"><circle cx="832.9" cy="560.3" r="4.6"/><circle cx="832.9" cy="577.8" r="4.6"/><circle cx="832.5" cy="592.0" r="4.6"/><circle cx="832.5" cy="598.4" r="4.6"/><circle cx="832.5" cy="604.8" r="4.6"/><circle cx="838.8" cy="593.7" r="4.6"/><circle cx="838.8" cy="601.6" r="4.6"/><circle cx="842.0" cy="598.4" r="4.6"/><circle cx="849.1" cy="588.9" r="4.6"/><circle cx="853.1" cy="582.5" r="4.6"/><circle cx="854.7" cy="577.8" r="4.6"/><circle cx="859.4" cy="579.4" r="4.6"/><circle cx="857.1" cy="586.5" r="4.6"/><circle cx="853.1" cy="564.3" r="4.6"/><circle cx="861.0" cy="557.1" r="4.6"/><circle cx="862.6" cy="566.7" r="4.6"/><circle cx="867.4" cy="574.6" r="4.6"/><circle cx="869.0" cy="581.0" r="4.6"/><circle cx="864.2" cy="585.7" r="4.6"/><circle cx="869.0" cy="592.9" r="4.6"/><circle cx="870.6" cy="540.5" r="4.6"/><circle cx="872.1" cy="547.6" r="4.6"/><circle cx="876.9" cy="547.6" r="4.6"/><circle cx="875.3" cy="560.3" r="4.6"/><circle cx="880.1" cy="566.7" r="4.6"/><circle cx="878.5" cy="573.0" r="4.6"/><circle cx="873.7" cy="577.8" r="4.6"/><circle cx="886.4" cy="582.5" r="4.6"/><circle cx="884.8" cy="586.5" r="4.6"/><circle cx="888.0" cy="579.4" r="4.6"/><circle cx="888.0" cy="547.6" r="4.6"/><circle cx="889.6" cy="560.3" r="4.6"/><circle cx="891.2" cy="566.7" r="4.6"/><circle cx="897.5" cy="563.5" r="4.6"/><circle cx="900.7" cy="557.1" r="4.6"/><circle cx="903.9" cy="561.9" r="4.6"/><circle cx="907.1" cy="560.3" r="4.6"/><circle cx="902.3" cy="573.0" r="4.6"/><circle cx="897.5" cy="520.6" r="4.6"/><circle cx="900.7" cy="528.6" r="4.6"/><circle cx="897.5" cy="539.7" r="4.6"/><circle cx="903.9" cy="534.9" r="4.6"/><circle cx="903.9" cy="509.5" r="4.6"/><circle cx="907.1" cy="504.8" r="4.6"/><circle cx="913.4" cy="500.0" r="4.6"/><circle cx="918.2" cy="509.5" r="4.6"/><circle cx="913.4" cy="520.6" r="4.6"/><circle cx="910.2" cy="531.7" r="4.6"/><circle cx="916.6" cy="538.1" r="4.6"/><circle cx="915.0" cy="546.0" r="4.6"/><circle cx="926.1" cy="531.7" r="4.6"/><circle cx="924.5" cy="520.6" r="4.6"/><circle cx="929.3" cy="515.9" r="4.6"/><circle cx="932.5" cy="504.8" r="4.6"/><circle cx="932.5" cy="546.0" r="4.6"/><circle cx="932.5" cy="541.3" r="4.6"/><circle cx="913.0" cy="432.7" r="4.6"/><circle cx="898.6" cy="467.6" r="4.6"/><circle cx="962.5" cy="422.4" r="4.6"/><circle cx="980.0" cy="428.7" r="4.6"/><circle cx="991.1" cy="431.1" r="4.6"/><circle cx="945.1" cy="438.3" r="4.6"/><circle cx="959.4" cy="435.1" r="4.6"/><circle cx="962.5" cy="442.2" r="4.6"/><circle cx="956.2" cy="443.8" r="4.6"/><circle cx="967.3" cy="450.2" r="4.6"/><circle cx="945.1" cy="450.2" r="4.6"/><circle cx="949.8" cy="447.0" r="4.6"/><circle cx="980.0" cy="440.6" r="4.6"/><circle cx="981.6" cy="448.6" r="4.6"/><circle cx="987.9" cy="451.7" r="4.6"/><circle cx="994.3" cy="447.0" r="4.6"/><circle cx="997.5" cy="435.9" r="4.6"/><circle cx="991.1" cy="456.5" r="4.6"/><circle cx="997.5" cy="456.5" r="4.6"/><circle cx="949.8" cy="461.3" r="4.6"/><circle cx="959.4" cy="458.1" r="4.6"/><circle cx="965.7" cy="461.3" r="4.6"/><circle cx="968.9" cy="467.6" r="4.6"/><circle cx="975.2" cy="459.7" r="4.6"/><circle cx="978.4" cy="469.2" r="4.6"/><circle cx="975.2" cy="474.0" r="4.6"/><circle cx="981.6" cy="464.4" r="4.6"/><circle cx="938.7" cy="466.0" r="4.6"/><circle cx="940.3" cy="474.0" r="4.6"/><circle cx="946.7" cy="475.6" r="4.6"/><circle cx="953.0" cy="474.0" r="4.6"/><circle cx="956.2" cy="480.3" r="4.6"/><circle cx="951.4" cy="486.7" r="4.6"/><circle cx="946.7" cy="491.4" r="4.6"/><circle cx="940.3" cy="494.6" r="4.6"/><circle cx="943.5" cy="483.5" r="4.6"/><circle cx="929.2" cy="475.6" r="4.6"/><circle cx="927.6" cy="480.3" r="4.6"/><circle cx="965.7" cy="478.7" r="4.6"/><circle cx="968.9" cy="483.5" r="4.6"/><circle cx="972.1" cy="488.3" r="4.6"/><circle cx="965.7" cy="486.7" r="4.6"/><circle cx="962.5" cy="483.5" r="4.6"/><circle cx="972.1" cy="497.8" r="4.6"/><circle cx="972.1" cy="506.5" r="4.6"/><circle cx="972.1" cy="524.8" r="4.6"/><circle cx="949.8" cy="506.5" r="4.6"/><circle cx="918.1" cy="483.5" r="4.6"/><circle cx="911.7" cy="489.8" r="4.6"/><circle cx="907.0" cy="496.2" r="4.6"/><circle cx="905.4" cy="504.1" r="4.6"/><circle cx="903.8" cy="512.1" r="4.6"/><circle cx="897.5" cy="520.0" r="4.6"/><circle cx="895.9" cy="527.9" r="4.6"/><circle cx="894.3" cy="535.9" r="4.6"/><circle cx="921.3" cy="491.4" r="4.6"/><circle cx="926.0" cy="486.7" r="4.6"/><circle cx="927.6" cy="494.6" r="4.6"/><circle cx="916.5" cy="502.5" r="4.6"/><circle cx="922.9" cy="508.9" r="4.6"/><circle cx="927.6" cy="502.5" r="4.6"/><circle cx="932.4" cy="499.4" r="4.6"/><circle cx="937.1" cy="496.2" r="4.6"/><circle cx="940.3" cy="504.1" r="4.6"/><circle cx="935.6" cy="508.9" r="4.6"/><circle cx="932.4" cy="515.2" r="4.6"/><circle cx="937.1" cy="521.6" r="4.6"/><circle cx="943.5" cy="523.2" r="4.6"/><circle cx="940.3" cy="515.2" r="4.6"/><circle cx="918.1" cy="515.2" r="4.6"/><circle cx="911.7" cy="521.6" r="4.6"/><circle cx="921.3" cy="521.6" r="4.6"/><circle cx="908.6" cy="531.1" r="4.6"/><circle cx="916.5" cy="531.1" r="4.6"/><circle cx="926.0" cy="531.1" r="4.6"/><circle cx="937.1" cy="534.3" r="4.6"/><circle cx="902.2" cy="534.3" r="4.6"/><circle cx="958.7" cy="355.4" r="4.6"/><circle cx="958.7" cy="384.8" r="4.6"/><circle cx="962.7" cy="422.1" r="4.6"/><circle cx="960.3" cy="435.6" r="4.6"/><circle cx="956.3" cy="441.1" r="4.6"/><circle cx="964.3" cy="444.3" r="4.6"/><circle cx="980.2" cy="428.4" r="4.6"/><circle cx="980.2" cy="439.5" r="4.6"/><circle cx="981.7" cy="445.9" r="4.6"/><circle cx="992.1" cy="431.6" r="4.6"/><circle cx="994.4" cy="437.9" r="4.6"/><circle cx="989.7" cy="444.3" r="4.6"/><circle cx="997.6" cy="444.3" r="4.6"/><circle cx="1002.4" cy="430.0" r="4.6"/><circle cx="1005.6" cy="436.3" r="4.6"/><circle cx="1008.7" cy="425.2" r="4.6"/><circle cx="1004.0" cy="444.3" r="4.6"/><circle cx="1005.6" cy="398.3" r="4.6"/><circle cx="1005.6" cy="407.8" r="4.6"/><circle cx="1010.3" cy="404.6" r="4.6"/><circle cx="1010.3" cy="414.1" r="4.6"/><circle cx="1007.1" cy="420.5" r="4.6"/><circle cx="1013.5" cy="418.9" r="4.6"/><circle cx="1016.7" cy="425.2" r="4.6"/><circle cx="1019.8" cy="415.7" r="4.6"/><circle cx="1023.0" cy="422.1" r="4.6"/><circle cx="1029.4" cy="425.2" r="4.6"/><circle cx="1024.6" cy="409.4" r="4.6"/><circle cx="1026.2" cy="403.0" r="4.6"/><circle cx="1019.8" cy="398.3" r="4.6"/><circle cx="1029.4" cy="396.7" r="4.6"/><circle cx="1032.5" cy="393.5" r="4.6"/><circle cx="1030.9" cy="403.0" r="4.6"/><circle cx="1030.9" cy="412.5" r="4.6"/><circle cx="1021.4" cy="434.8" r="4.6"/><circle cx="1021.4" cy="444.3" r="4.6"/><circle cx="1027.0" cy="357.0" r="4.6"/><circle cx="1024.6" cy="366.5" r="4.6"/><circle cx="1029.4" cy="368.1" r="4.6"/><circle cx="1023.0" cy="377.6" r="4.6"/><circle cx="1026.2" cy="385.6" r="4.6"/><circle cx="1044.4" cy="343.5" r="4.6"/><circle cx="1043.7" cy="350.6" r="4.6"/><circle cx="1040.5" cy="355.4" r="4.6"/><circle cx="1057.9" cy="335.6" r="4.6"/><circle cx="1056.3" cy="344.3" r="4.6"/><circle cx="1059.5" cy="350.6" r="4.6"/><circle cx="1061.1" cy="358.6" r="4.6"/><circle cx="1067.5" cy="347.5" r="4.6"/><circle cx="1067.5" cy="361.7" r="4.6"/><circle cx="1045.2" cy="368.1" r="4.6"/><circle cx="1042.1" cy="374.4" r="4.6"/><circle cx="1048.4" cy="372.9" r="4.6"/><circle cx="1054.8" cy="369.7" r="4.6"/><circle cx="1059.5" cy="377.6" r="4.6"/><circle cx="1061.1" cy="369.7" r="4.6"/><circle cx="1067.5" cy="374.4" r="4.6"/><circle cx="1051.6" cy="384.0" r="4.6"/><circle cx="1045.2" cy="390.3" r="4.6"/><circle cx="1038.9" cy="396.7" r="4.6"/><circle cx="1042.1" cy="399.8" r="4.6"/><circle cx="1048.4" cy="396.7" r="4.6"/><circle cx="1054.8" cy="390.3" r="4.6"/><circle cx="1061.1" cy="387.1" r="4.6"/><circle cx="1064.3" cy="380.8" r="4.6"/><circle cx="1057.9" cy="396.7" r="4.6"/><circle cx="1054.8" cy="403.0" r="4.6"/><circle cx="1048.4" cy="404.6" r="4.6"/><circle cx="1042.1" cy="406.2" r="4.6"/><circle cx="1038.9" cy="412.5" r="4.6"/><circle cx="1045.2" cy="409.4" r="4.6"/><circle cx="1051.6" cy="409.4" r="4.6"/><circle cx="1057.9" cy="409.4" r="4.6"/><circle cx="1064.3" cy="402.2" r="4.6"/><circle cx="1040.5" cy="418.9" r="4.6"/><circle cx="1042.1" cy="425.2" r="4.6"/><circle cx="1045.2" cy="430.0" r="4.6"/><circle cx="1040.5" cy="437.9" r="4.6"/><circle cx="1045.2" cy="434.8" r="4.6"/><circle cx="1123.3" cy="264.0" r="4.6"/><circle cx="1123.3" cy="277.3" r="4.6"/><circle cx="1152.7" cy="257.9" r="4.6"/><circle cx="1149.5" cy="267.5" r="4.6"/><circle cx="1147.9" cy="273.8" r="4.6"/><circle cx="1151.1" cy="278.6" r="4.6"/><circle cx="1154.3" cy="272.2" r="4.6"/><circle cx="1157.5" cy="265.9" r="4.6"/><circle cx="1151.1" cy="284.9" r="4.6"/><circle cx="1154.3" cy="289.7" r="4.6"/><circle cx="1157.5" cy="286.5" r="4.6"/><circle cx="1159.0" cy="300.8" r="4.6"/><circle cx="1140.8" cy="292.1" r="4.6"/><circle cx="1143.2" cy="297.6" r="4.6"/><circle cx="1149.5" cy="299.2" r="4.6"/><circle cx="1140.0" cy="300.8" r="4.6"/><circle cx="1144.8" cy="315.1" r="4.6"/><circle cx="1151.1" cy="315.1" r="4.6"/><circle cx="1144.8" cy="328.6" r="4.6"/><circle cx="1092.4" cy="281.0" r="4.6"/><circle cx="1089.2" cy="286.5" r="4.6"/><circle cx="1086.0" cy="291.3" r="4.6"/><circle cx="1082.9" cy="293.7" r="4.6"/><circle cx="1094.0" cy="295.2" r="4.6"/><circle cx="1089.2" cy="292.9" r="4.6"/><circle cx="1084.4" cy="304.8" r="4.6"/><circle cx="1089.2" cy="304.0" r="4.6"/><circle cx="1090.8" cy="311.9" r="4.6"/><circle cx="1076.5" cy="310.3" r="4.6"/><circle cx="1074.9" cy="323.0" r="4.6"/><circle cx="1101.1" cy="314.3" r="4.6"/><circle cx="1100.3" cy="321.4" r="4.6"/><circle cx="1117.8" cy="289.7" r="4.6"/><circle cx="1122.5" cy="292.9" r="4.6"/><circle cx="1127.3" cy="294.4" r="4.6"/><circle cx="1113.0" cy="302.4" r="4.6"/><circle cx="1119.4" cy="300.8" r="4.6"/><circle cx="1125.7" cy="304.0" r="4.6"/><circle cx="1130.5" cy="305.6" r="4.6"/><circle cx="1124.1" cy="310.3" r="4.6"/><circle cx="1128.9" cy="316.7" r="4.6"/><circle cx="1119.4" cy="313.5" r="4.6"/><circle cx="1116.2" cy="319.8" r="4.6"/><circle cx="1113.0" cy="324.6" r="4.6"/><circle cx="1108.3" cy="329.4" r="4.6"/><circle cx="1105.1" cy="332.5" r="4.6"/><circle cx="1122.5" cy="329.4" r="4.6"/><circle cx="1125.7" cy="329.4" r="4.6"/><circle cx="1090.8" cy="329.4" r="4.6"/><circle cx="1095.6" cy="334.1" r="4.6"/><circle cx="1097.1" cy="340.5" r="4.6"/><circle cx="1093.2" cy="345.2" r="4.6"/><circle cx="1098.7" cy="348.4" r="4.6"/><circle cx="1097.1" cy="354.8" r="4.6"/><circle cx="1121.7" cy="357.9" r="4.6"/><circle cx="1114.6" cy="367.5" r="4.6"/><circle cx="1057.5" cy="335.7" r="4.6"/><circle cx="1055.9" cy="343.7" r="4.6"/><circle cx="1060.6" cy="348.4" r="4.6"/><circle cx="1067.0" cy="345.2" r="4.6"/><circle cx="1076.5" cy="337.3" r="4.6"/><circle cx="1076.5" cy="345.2" r="4.6"/><circle cx="1071.7" cy="353.2" r="4.6"/><circle cx="1063.8" cy="357.9" r="4.6"/><circle cx="1059.0" cy="364.3" r="4.6"/><circle cx="1068.6" cy="364.3" r="4.6"/><circle cx="1078.1" cy="357.9" r="4.6"/><circle cx="1082.9" cy="354.8" r="4.6"/><circle cx="1044.8" cy="343.7" r="4.6"/><circle cx="1043.2" cy="351.6" r="4.6"/><circle cx="1046.3" cy="367.5" r="4.6"/><circle cx="1074.9" cy="364.3" r="4.6"/><circle cx="1210.2" cy="185.1" r="4.6"/><circle cx="1210.2" cy="204.9" r="4.6"/><circle cx="1162.2" cy="246.2" r="4.6"/><circle cx="1152.7" cy="258.1" r="4.6"/><circle cx="1147.9" cy="266.8" r="4.6"/><circle cx="1147.9" cy="273.2" r="4.6"/><circle cx="1149.5" cy="279.5" r="4.6"/><circle cx="1157.5" cy="266.8" r="4.6"/><circle cx="1159.0" cy="273.2" r="4.6"/><circle cx="1160.6" cy="281.1" r="4.6"/><circle cx="1162.2" cy="287.5" r="4.6"/><circle cx="1151.1" cy="287.5" r="4.6"/><circle cx="1208.3" cy="279.5" r="4.6"/><circle cx="1209.8" cy="284.3" r="4.6"/><circle cx="1178.1" cy="258.3" r="4.6"/><circle cx="1184.4" cy="250.3" r="4.6"/><circle cx="1187.6" cy="247.7" r="4.6"/><circle cx="1190.8" cy="248.4" r="4.6"/><circle cx="1184.4" cy="254.8" r="4.6"/><circle cx="1187.6" cy="254.9" r="4.6"/><circle cx="1179.7" cy="261.1" r="4.6"/><circle cx="1178.1" cy="261.1" r="4.6"/><circle cx="1186.0" cy="252.6" r="4.6"/><circle cx="1194.0" cy="244.6" r="4.6"/><circle cx="1198.7" cy="240.4" r="4.6"/><circle cx="1203.5" cy="235.7" r="4.6"/><circle cx="1206.7" cy="234.1" r="4.6"/><circle cx="1205.1" cy="231.8" r="4.6"/><circle cx="1209.8" cy="227.1" r="4.6"/><circle cx="1214.6" cy="223.4" r="4.6"/><circle cx="1217.8" cy="223.5" r="4.6"/><circle cx="1216.2" cy="220.7" r="4.6"/><circle cx="1219.4" cy="217.5" r="4.6"/><circle cx="1222.5" cy="217.2" r="4.6"/><circle cx="1225.7" cy="212.3" r="4.6"/><circle cx="1230.5" cy="208.1" r="4.6"/><circle cx="1235.2" cy="203.9" r="4.6"/><circle cx="1238.4" cy="199.6" r="4.6"/><circle cx="1241.6" cy="196.4" r="4.6"/><circle cx="1247.9" cy="192.8" r="4.6"/><circle cx="1251.1" cy="188.5" r="4.6"/><circle cx="1249.5" cy="187.9" r="4.6"/><circle cx="1254.3" cy="182.5" r="4.6"/><circle cx="1257.5" cy="179.3" r="4.6"/><circle cx="1251.1" cy="190.8" r="4.6"/><circle cx="1259.5" cy="175.5" r="4.6"/><circle cx="1266.1" cy="171.2" r="4.6"/><circle cx="1268.8" cy="170.2" r="4.6"/><circle cx="1262.2" cy="175.6" r="4.6"/><circle cx="1252.9" cy="182.8" r="4.6"/><circle cx="1258.2" cy="180.1" r="4.6"/><circle cx="1250.3" cy="188.0" r="4.6"/><circle cx="1252.9" cy="187.7" r="4.6"/><circle cx="1248.9" cy="192.2" r="4.6"/><circle cx="1255.6" cy="185.5" r="4.6"/><circle cx="1239.7" cy="197.7" r="4.6"/><circle cx="1237.0" cy="200.4" r="4.6"/><circle cx="1233.1" cy="204.8" r="4.6"/><circle cx="1229.1" cy="208.8" r="4.6"/><circle cx="1226.5" cy="211.8" r="4.6"/><circle cx="1219.8" cy="216.7" r="4.6"/><circle cx="1221.2" cy="217.6" r="4.6"/><circle cx="1218.5" cy="222.6" r="4.6"/><circle cx="1214.6" cy="223.3" r="4.6"/><circle cx="1207.9" cy="228.6" r="4.6"/><circle cx="1205.3" cy="232.1" r="4.6"/><circle cx="1204.0" cy="234.8" r="4.6"/><circle cx="1223.8" cy="216.4" r="4.6"/><circle cx="1031.6" cy="539.4" r="4.6"/><circle cx="1021.6" cy="449.4" r="4.6"/><circle cx="1021.6" cy="455.0" r="4.6"/><circle cx="1021.6" cy="463.6" r="4.6"/><circle cx="1021.6" cy="472.0" r="4.6"/><circle cx="1021.6" cy="475.3" r="4.6"/><circle cx="1021.6" cy="481.0" r="4.6"/><circle cx="870.3" cy="539.8" r="4.6"/><circle cx="870.3" cy="546.5" r="4.6"/><circle cx="875.6" cy="547.8" r="4.6"/><circle cx="868.9" cy="550.4" r="4.6"/><circle cx="859.7" cy="557.0" r="4.6"/><circle cx="853.1" cy="563.7" r="4.6"/><circle cx="857.0" cy="566.3" r="4.6"/><circle cx="862.3" cy="562.3" r="4.6"/><circle cx="865.0" cy="567.6" r="4.6"/><circle cx="859.7" cy="571.6" r="4.6"/><circle cx="854.4" cy="575.6" r="4.6"/><circle cx="851.7" cy="579.5" r="4.6"/><circle cx="849.1" cy="584.8" r="4.6"/><circle cx="846.5" cy="588.8" r="4.6"/><circle cx="853.1" cy="584.8" r="4.6"/><circle cx="858.4" cy="582.2" r="4.6"/><circle cx="863.7" cy="578.2" r="4.6"/><circle cx="867.6" cy="574.2" r="4.6"/><circle cx="870.3" cy="570.3" r="4.6"/><circle cx="872.9" cy="566.3" r="4.6"/><circle cx="875.6" cy="561.0" r="4.6"/><circle cx="878.2" cy="558.4" r="4.6"/><circle cx="880.8" cy="563.7" r="4.6"/><circle cx="878.2" cy="570.3" r="4.6"/><circle cx="875.6" cy="575.6" r="4.6"/><circle cx="872.9" cy="580.8" r="4.6"/><circle cx="868.9" cy="583.5" r="4.6"/><circle cx="865.0" cy="588.8" r="4.6"/><circle cx="859.7" cy="591.4" r="4.6"/><circle cx="854.4" cy="592.8" r="4.6"/><circle cx="870.3" cy="592.8" r="4.6"/><circle cx="886.1" cy="549.1" r="4.6"/><circle cx="891.4" cy="546.5" r="4.6"/><circle cx="894.1" cy="541.2" r="4.6"/><circle cx="895.4" cy="535.9" r="4.6"/><circle cx="896.7" cy="527.9" r="4.6"/><circle cx="899.4" cy="522.6" r="4.6"/><circle cx="894.1" cy="524.0" r="4.6"/><circle cx="902.0" cy="533.2" r="4.6"/><circle cx="907.3" cy="530.6" r="4.6"/><circle cx="912.6" cy="527.9" r="4.6"/><circle cx="915.2" cy="535.9" r="4.6"/><circle cx="915.2" cy="543.8" r="4.6"/><circle cx="909.9" cy="546.5" r="4.6"/><circle cx="904.7" cy="550.4" r="4.6"/><circle cx="899.4" cy="553.1" r="4.6"/><circle cx="894.1" cy="557.0" r="4.6"/><circle cx="888.8" cy="559.7" r="4.6"/><circle cx="886.1" cy="565.0" r="4.6"/><circle cx="891.4" cy="566.3" r="4.6"/><circle cx="896.7" cy="563.7" r="4.6"/><circle cx="902.0" cy="559.7" r="4.6"/><circle cx="907.3" cy="558.4" r="4.6"/><circle cx="907.3" cy="563.7" r="4.6"/><circle cx="902.0" cy="565.0" r="4.6"/><circle cx="883.5" cy="583.5" r="4.6"/><circle cx="886.1" cy="580.8" r="4.6"/><circle cx="888.8" cy="579.5" r="4.6"/><circle cx="902.0" cy="572.9" r="4.6"/><circle cx="833.2" cy="591.4" r="4.6"/><circle cx="831.9" cy="599.4" r="4.6"/><circle cx="833.2" cy="606.0" r="4.6"/><circle cx="839.8" cy="591.4" r="4.6"/><circle cx="841.2" cy="599.4" r="4.6"/><circle cx="837.2" cy="604.7" r="4.6"/><circle cx="843.8" cy="596.7" r="4.6"/><circle cx="943.5" cy="472.4" r="4.6"/><circle cx="949.8" cy="472.4" r="4.6"/><circle cx="946.7" cy="480.3" r="4.6"/><circle cx="953.0" cy="483.5" r="4.6"/><circle cx="943.5" cy="488.3" r="4.6"/><circle cx="949.8" cy="491.4" r="4.6"/><circle cx="940.3" cy="493.0" r="4.6"/><circle cx="911.7" cy="499.4" r="4.6"/><circle cx="919.7" cy="496.2" r="4.6"/><circle cx="927.6" cy="499.4" r="4.6"/><circle cx="934.0" cy="505.7" r="4.6"/><circle cx="927.6" cy="512.1" r="4.6"/><circle cx="919.7" cy="515.2" r="4.6"/><circle cx="911.7" cy="512.1" r="4.6"/><circle cx="905.4" cy="515.2" r="4.6"/><circle cx="903.8" cy="524.8" r="4.6"/><circle cx="911.7" cy="527.9" r="4.6"/><circle cx="919.7" cy="527.9" r="4.6"/><circle cx="927.6" cy="523.2" r="4.6"/><circle cx="935.6" cy="518.4" r="4.6"/><circle cx="940.3" cy="527.9" r="4.6"/><circle cx="934.0" cy="531.1" r="4.6"/><circle cx="899.0" cy="527.9" r="4.6"/><circle cx="968.9" cy="464.4" r="4.6"/><circle cx="975.2" cy="466.0" r="4.6"/><circle cx="978.4" cy="467.6" r="4.6"/><circle cx="973.7" cy="470.8" r="4.6"/><circle cx="965.7" cy="469.2" r="4.6"/><circle cx="983.2" cy="443.8" r="4.6"/><circle cx="991.1" cy="443.8" r="4.6"/><circle cx="987.9" cy="451.7" r="4.6"/><circle cx="994.3" cy="453.3" r="4.6"/><circle cx="984.8" cy="456.5" r="4.6"/><circle cx="1045.2" cy="396.7" r="4.6"/><circle cx="1051.6" cy="399.8" r="4.6"/><circle cx="1057.9" cy="403.0" r="4.6"/><circle cx="1048.4" cy="390.3" r="4.6"/><circle cx="1061.1" cy="377.6" r="4.6"/><circle cx="1064.3" cy="369.7" r="4.6"/><circle cx="1061.1" cy="361.7" r="4.6"/><circle cx="1057.9" cy="355.4" r="4.6"/><circle cx="1016.7" cy="418.9" r="4.6"/><circle cx="1023.0" cy="412.5" r="4.6"/><circle cx="1026.2" cy="406.2" r="4.6"/><circle cx="1063.8" cy="353.2" r="4.6"/><circle cx="1071.7" cy="361.1" r="4.6"/><circle cx="1059.0" cy="357.9" r="4.6"/><circle cx="1049.5" cy="348.4" r="4.6"/><circle cx="1043.2" cy="361.1" r="4.6"/><circle cx="1115.2" cy="385.1" r="4.6"/><circle cx="1210.2" cy="296.7" r="4.6"/><circle cx="1121.3" cy="303.8" r="4.6"/><circle cx="1124.4" cy="311.7" r="4.6"/><circle cx="1118.1" cy="319.7" r="4.6"/><circle cx="1127.6" cy="307.0" r="4.6"/></g>
<rect x="814" y="131" width="492" height="494" fill="none" stroke="#333" stroke-width="1.6"/>
<line x1="800.1" y1="606.3" x2="814" y2="606.3" stroke="#333" stroke-width="1.5"/>
<line x1="833.2" y1="625" x2="833.2" y2="637.3" stroke="#333" stroke-width="1.5"/>
<line x1="800.1" y1="515.1" x2="814" y2="515.1" stroke="#333" stroke-width="1.5"/>
<line x1="924.2" y1="625" x2="924.2" y2="637.3" stroke="#333" stroke-width="1.5"/>
<line x1="800.1" y1="423.9" x2="814" y2="423.9" stroke="#333" stroke-width="1.5"/>
<line x1="1015.1" y1="625" x2="1015.1" y2="637.3" stroke="#333" stroke-width="1.5"/>
<line x1="800.1" y1="332.8" x2="814" y2="332.8" stroke="#333" stroke-width="1.5"/>
<line x1="1106.1" y1="625" x2="1106.1" y2="637.3" stroke="#333" stroke-width="1.5"/>
<line x1="800.1" y1="241.6" x2="814" y2="241.6" stroke="#333" stroke-width="1.5"/>
<line x1="1197.0" y1="625" x2="1197.0" y2="637.3" stroke="#333" stroke-width="1.5"/>
<line x1="800.1" y1="150.4" x2="814" y2="150.4" stroke="#333" stroke-width="1.5"/>
<line x1="1288.0" y1="625" x2="1288.0" y2="637.3" stroke="#333" stroke-width="1.5"/>
<text x="828.40" y="671.20" font-size="18.6" textLength="9.62" lengthAdjust="spacingAndGlyphs" fill="#111" stroke="#111" stroke-width="0.3">0</text>
<text transform="translate(784.40,610.41) rotate(-90)" x="-0.69" y="0" font-size="18.6" textLength="9.62" lengthAdjust="spacingAndGlyphs" fill="#111" stroke="#111" stroke-width="0.3">0</text>
<text x="914.47" y="671.20" font-size="18.6" textLength="19.24" lengthAdjust="spacingAndGlyphs" fill="#111" stroke="#111" stroke-width="0.3">20</text>
<text transform="translate(784.40,523.94) rotate(-90)" x="-0.86" y="0" font-size="18.6" textLength="19.24" lengthAdjust="spacingAndGlyphs" fill="#111" stroke="#111" stroke-width="0.3">20</text>
<text x="1005.65" y="671.20" font-size="18.6" textLength="19.24" lengthAdjust="spacingAndGlyphs" fill="#111" stroke="#111" stroke-width="0.3">40</text>
<text transform="translate(784.40,432.98) rotate(-90)" x="-0.43" y="0" font-size="18.6" textLength="19.24" lengthAdjust="spacingAndGlyphs" fill="#111" stroke="#111" stroke-width="0.3">40</text>
<text x="1096.39" y="671.20" font-size="18.6" textLength="19.24" lengthAdjust="spacingAndGlyphs" fill="#111" stroke="#111" stroke-width="0.3">60</text>
<text transform="translate(784.40,341.58) rotate(-90)" x="-0.86" y="0" font-size="18.6" textLength="19.24" lengthAdjust="spacingAndGlyphs" fill="#111" stroke="#111" stroke-width="0.3">60</text>
<text x="1187.40" y="671.20" font-size="18.6" textLength="19.24" lengthAdjust="spacingAndGlyphs" fill="#111" stroke="#111" stroke-width="0.3">80</text>
<text transform="translate(784.40,250.45) rotate(-90)" x="-0.78" y="0" font-size="18.6" textLength="19.24" lengthAdjust="spacingAndGlyphs" fill="#111" stroke="#111" stroke-width="0.3">80</text>
<text x="1273.30" y="671.20" font-size="18.6" textLength="28.86" lengthAdjust="spacingAndGlyphs" fill="#111" stroke="#111" stroke-width="0.3">100</text>
<text transform="translate(784.40,163.09) rotate(-90)" x="-1.23" y="0" font-size="18.6" textLength="27.31" lengthAdjust="spacingAndGlyphs" fill="#111" stroke="#111" stroke-width="0.3">100</text>
<text x="860.55" y="724.00" font-size="32.2" textLength="398.25" lengthAdjust="spacingAndGlyphs" fill="#000">Theoretical total motility (%)</text>
<text transform="translate(733.30,563.70) rotate(-90)" x="-2.56" y="0" font-size="31.7" textLength="378.85" lengthAdjust="spacingAndGlyphs" fill="#000">Measured total motility (%)</text>
<text x="925.61" y="567.80" font-size="25.4" textLength="360.46" lengthAdjust="spacingAndGlyphs" fill="#000">CCC: 0.99 (95% CI 0.99 - 0.99)</text>
<text x="882.23" y="180.30" font-size="25.3" textLength="319.48" lengthAdjust="spacingAndGlyphs" fill="#000">Line of perfect concordance</text>
<text x="882.26" y="204.20" font-size="25.3" textLength="225.37" lengthAdjust="spacingAndGlyphs" fill="#000">Reduced major axis</text>
<text x="882.05" y="235.30" font-size="25.3" textLength="196.51" lengthAdjust="spacingAndGlyphs" fill="#000" xml:space="preserve">r = 0.99  r² = 0.98</text>
<line x1="831" y1="170" x2="867.2" y2="170" stroke="#555" stroke-width="1.8" stroke-dasharray="7 3"/>
<line x1="831" y1="208.8" x2="867.2" y2="208.8" stroke="#555" stroke-width="1.9"/>
<line x1="1410" y1="82" x2="2008" y2="82" stroke="#d9d9d9" stroke-width="1.2"/>
<rect x="1469.6" y="92.3" width="259" height="40.1" fill="#b3b3b3"/>
<text x="1558.01" y="122.30" font-size="27" textLength="81.18" lengthAdjust="spacingAndGlyphs" fill="#f5f5f5">bovine</text>
<line x1="1469.6" y1="611.7" x2="1728.6" y2="611.7" stroke="#e3e3e3" stroke-width="1.2"/>
<line x1="1469.6" y1="566.1" x2="1728.6" y2="566.1" stroke="#e3e3e3" stroke-width="1.2"/>
<line x1="1469.6" y1="520.4" x2="1728.6" y2="520.4" stroke="#e3e3e3" stroke-width="1.2"/>
<line x1="1469.6" y1="474.8" x2="1728.6" y2="474.8" stroke="#e3e3e3" stroke-width="1.2"/>
<line x1="1469.6" y1="429.1" x2="1728.6" y2="429.1" stroke="#e3e3e3" stroke-width="1.2"/>
<line x1="1469.6" y1="383.5" x2="1728.6" y2="383.5" stroke="#e3e3e3" stroke-width="1.2"/>
<line x1="1469.6" y1="337.8" x2="1728.6" y2="337.8" stroke="#e3e3e3" stroke-width="1.2"/>
<line x1="1469.6" y1="292.2" x2="1728.6" y2="292.2" stroke="#e3e3e3" stroke-width="1.2"/>
<line x1="1469.6" y1="246.5" x2="1728.6" y2="246.5" stroke="#e3e3e3" stroke-width="1.2"/>
<line x1="1469.6" y1="200.9" x2="1728.6" y2="200.9" stroke="#e3e3e3" stroke-width="1.2"/>
<line x1="1469.6" y1="155.2" x2="1728.6" y2="155.2" stroke="#e3e3e3" stroke-width="1.2"/>
<rect x="1469.6" y="132.4" width="259" height="502.2" fill="none" stroke="#cfcfcf" stroke-width="1.3"/>
<line x1="1498.7" y1="634.6" x2="1498.7" y2="638.8" stroke="#b3b3b3" stroke-width="1.2"/>
<text x="1494.17" y="656.20" font-size="17.2" textLength="9.09" lengthAdjust="spacingAndGlyphs" fill="#555">0</text>
<line x1="1548.7" y1="634.6" x2="1548.7" y2="638.8" stroke="#b3b3b3" stroke-width="1.2"/>
<text x="1539.55" y="656.20" font-size="17.2" textLength="18.18" lengthAdjust="spacingAndGlyphs" fill="#555">25</text>
<line x1="1598.7" y1="634.6" x2="1598.7" y2="638.8" stroke="#b3b3b3" stroke-width="1.2"/>
<text x="1589.63" y="656.20" font-size="17.2" textLength="18.18" lengthAdjust="spacingAndGlyphs" fill="#555">50</text>
<line x1="1648.7" y1="634.6" x2="1648.7" y2="638.8" stroke="#b3b3b3" stroke-width="1.2"/>
<text x="1639.55" y="656.20" font-size="17.2" textLength="18.18" lengthAdjust="spacingAndGlyphs" fill="#555">75</text>
<line x1="1698.7" y1="634.6" x2="1698.7" y2="638.8" stroke="#b3b3b3" stroke-width="1.2"/>
<text x="1684.81" y="656.20" font-size="17.2" textLength="27.26" lengthAdjust="spacingAndGlyphs" fill="#555">100</text>
<rect x="1739.3" y="92.3" width="259" height="40.1" fill="#b3b3b3"/>
<text x="1822.91" y="122.30" font-size="27" textLength="90.43" lengthAdjust="spacingAndGlyphs" fill="#f5f5f5">porcine</text>
<line x1="1739.3" y1="611.7" x2="1998.3" y2="611.7" stroke="#e3e3e3" stroke-width="1.2"/>
<line x1="1739.3" y1="566.1" x2="1998.3" y2="566.1" stroke="#e3e3e3" stroke-width="1.2"/>
<line x1="1739.3" y1="520.4" x2="1998.3" y2="520.4" stroke="#e3e3e3" stroke-width="1.2"/>
<line x1="1739.3" y1="474.8" x2="1998.3" y2="474.8" stroke="#e3e3e3" stroke-width="1.2"/>
<line x1="1739.3" y1="429.1" x2="1998.3" y2="429.1" stroke="#e3e3e3" stroke-width="1.2"/>
<line x1="1739.3" y1="383.5" x2="1998.3" y2="383.5" stroke="#e3e3e3" stroke-width="1.2"/>
<line x1="1739.3" y1="337.8" x2="1998.3" y2="337.8" stroke="#e3e3e3" stroke-width="1.2"/>
<line x1="1739.3" y1="292.2" x2="1998.3" y2="292.2" stroke="#e3e3e3" stroke-width="1.2"/>
<line x1="1739.3" y1="246.5" x2="1998.3" y2="246.5" stroke="#e3e3e3" stroke-width="1.2"/>
<line x1="1739.3" y1="200.9" x2="1998.3" y2="200.9" stroke="#e3e3e3" stroke-width="1.2"/>
<line x1="1739.3" y1="155.2" x2="1998.3" y2="155.2" stroke="#e3e3e3" stroke-width="1.2"/>
<rect x="1739.3" y="132.4" width="259" height="502.2" fill="none" stroke="#cfcfcf" stroke-width="1.3"/>
<line x1="1768.4" y1="634.6" x2="1768.4" y2="638.8" stroke="#b3b3b3" stroke-width="1.2"/>
<text x="1763.87" y="656.20" font-size="17.2" textLength="9.09" lengthAdjust="spacingAndGlyphs" fill="#555">0</text>
<line x1="1818.4" y1="634.6" x2="1818.4" y2="638.8" stroke="#b3b3b3" stroke-width="1.2"/>
<text x="1809.25" y="656.20" font-size="17.2" textLength="18.18" lengthAdjust="spacingAndGlyphs" fill="#555">25</text>
<line x1="1868.4" y1="634.6" x2="1868.4" y2="638.8" stroke="#b3b3b3" stroke-width="1.2"/>
<text x="1859.33" y="656.20" font-size="17.2" textLength="18.18" lengthAdjust="spacingAndGlyphs" fill="#555">50</text>
<line x1="1918.4" y1="634.6" x2="1918.4" y2="638.8" stroke="#b3b3b3" stroke-width="1.2"/>
<text x="1909.25" y="656.20" font-size="17.2" textLength="18.18" lengthAdjust="spacingAndGlyphs" fill="#555">75</text>
<line x1="1968.4" y1="634.6" x2="1968.4" y2="638.8" stroke="#b3b3b3" stroke-width="1.2"/>
<text x="1954.51" y="656.20" font-size="17.2" textLength="27.26" lengthAdjust="spacingAndGlyphs" fill="#555">100</text>
<line x1="1464.3" y1="611.7" x2="1469.6" y2="611.7" stroke="#b3b3b3" stroke-width="1.2"/>
<text x="1451.78" y="617.70" font-size="17.2" textLength="9.09" lengthAdjust="spacingAndGlyphs" fill="#555">0</text>
<line x1="1464.3" y1="566.1" x2="1469.6" y2="566.1" stroke="#b3b3b3" stroke-width="1.2"/>
<text x="1442.72" y="572.05" font-size="17.2" textLength="18.18" lengthAdjust="spacingAndGlyphs" fill="#555">10</text>
<line x1="1464.3" y1="520.4" x2="1469.6" y2="520.4" stroke="#b3b3b3" stroke-width="1.2"/>
<text x="1442.72" y="526.40" font-size="17.2" textLength="18.18" lengthAdjust="spacingAndGlyphs" fill="#555">20</text>
<line x1="1464.3" y1="474.8" x2="1469.6" y2="474.8" stroke="#b3b3b3" stroke-width="1.2"/>
<text x="1442.72" y="480.75" font-size="17.2" textLength="18.18" lengthAdjust="spacingAndGlyphs" fill="#555">30</text>
<line x1="1464.3" y1="429.1" x2="1469.6" y2="429.1" stroke="#b3b3b3" stroke-width="1.2"/>
<text x="1442.72" y="435.10" font-size="17.2" textLength="18.18" lengthAdjust="spacingAndGlyphs" fill="#555">40</text>
<line x1="1464.3" y1="383.5" x2="1469.6" y2="383.5" stroke="#b3b3b3" stroke-width="1.2"/>
<text x="1442.72" y="389.45" font-size="17.2" textLength="18.18" lengthAdjust="spacingAndGlyphs" fill="#555">50</text>
<line x1="1464.3" y1="337.8" x2="1469.6" y2="337.8" stroke="#b3b3b3" stroke-width="1.2"/>
<text x="1442.72" y="343.80" font-size="17.2" textLength="18.18" lengthAdjust="spacingAndGlyphs" fill="#555">60</text>
<line x1="1464.3" y1="292.2" x2="1469.6" y2="292.2" stroke="#b3b3b3" stroke-width="1.2"/>
<text x="1442.72" y="298.15" font-size="17.2" textLength="18.18" lengthAdjust="spacingAndGlyphs" fill="#555">70</text>
<line x1="1464.3" y1="246.5" x2="1469.6" y2="246.5" stroke="#b3b3b3" stroke-width="1.2"/>
<text x="1442.72" y="252.50" font-size="17.2" textLength="18.18" lengthAdjust="spacingAndGlyphs" fill="#555">80</text>
<line x1="1464.3" y1="200.9" x2="1469.6" y2="200.9" stroke="#b3b3b3" stroke-width="1.2"/>
<text x="1442.72" y="206.85" font-size="17.2" textLength="18.18" lengthAdjust="spacingAndGlyphs" fill="#555">90</text>
<line x1="1464.3" y1="155.2" x2="1469.6" y2="155.2" stroke="#b3b3b3" stroke-width="1.2"/>
<text x="1433.65" y="161.20" font-size="17.2" textLength="27.26" lengthAdjust="spacingAndGlyphs" fill="#555">100</text>
<rect x="1476.2" y="610.7" width="22.2" height="1.0" fill="#F8766D"/>
<rect x="1526.3" y="565.7" width="22.3" height="46.0" fill="#F8766D"/>
<rect x="1549.2" y="558.4" width="22.2" height="53.3" fill="#00BFC4"/>
<rect x="1576.5" y="500.3" width="22.2" height="111.4" fill="#F8766D"/>
<rect x="1599.4" y="488.0" width="21.9" height="123.7" fill="#00BFC4"/>
<rect x="1626.3" y="464.0" width="22.3" height="147.7" fill="#F8766D"/>
<rect x="1649.2" y="451.1" width="22.2" height="160.6" fill="#00BFC4"/>
<rect x="1676.8" y="401.1" width="21.9" height="210.6" fill="#F8766D"/>
<rect x="1699.4" y="397.4" width="22.2" height="214.3" fill="#00BFC4"/>
<rect x="1746.4" y="608.8" width="22.0" height="2.9" fill="#F8766D"/>
<rect x="1796.1" y="505.9" width="22.0" height="105.8" fill="#F8766D"/>
<rect x="1818.6" y="520.5" width="22.0" height="91.2" fill="#00BFC4"/>
<rect x="1846.3" y="414.1" width="22.2" height="197.6" fill="#F8766D"/>
<rect x="1869.3" y="425.2" width="21.8" height="186.5" fill="#00BFC4"/>
<rect x="1896.3" y="328.9" width="22.6" height="282.8" fill="#F8766D"/>
<rect x="1919.3" y="337.0" width="21.8" height="274.7" fill="#00BFC4"/>
<rect x="1946.3" y="244.8" width="22.2" height="366.9" fill="#F8766D"/>
<rect x="1969.3" y="244.8" width="22.2" height="366.9" fill="#00BFC4"/>
<g stroke="#222" stroke-width="1.1" fill="none" opacity="0.85">
<path d="M1537.5 534.6V596.2M1534.9 534.6H1540.1M1534.9 596.2H1540.1"/>
<path d="M1560.3 526V590.5M1557.7 526H1562.8999999999999M1557.7 590.5H1562.8999999999999"/>
<path d="M1587.9 434.1V566.3M1585.3000000000002 434.1H1590.5M1585.3000000000002 566.3H1590.5"/>
<path d="M1609.8 419.6V556.5M1607.2 419.6H1612.3999999999999M1607.2 556.5H1612.3999999999999"/>
<path d="M1637.5 375.9V551.7M1634.9 375.9H1640.1M1634.9 551.7H1640.1"/>
<path d="M1660.3 354.8V547.6M1657.7 354.8H1662.8999999999999M1657.7 547.6H1662.8999999999999"/>
<path d="M1687.9 277V526M1685.3000000000002 277H1690.5M1685.3000000000002 526H1690.5"/>
<path d="M1710.5 268.5V526.7M1707.9 268.5H1713.1M1707.9 526.7H1713.1"/>
<path d="M1807 491.6V519.7M1804.4 491.6H1809.6M1804.4 519.7H1809.6"/>
<path d="M1829.7 511.2V529.2M1827.1000000000001 511.2H1832.3M1827.1000000000001 529.2H1832.3"/>
<path d="M1857.4 385.2V443.7M1854.8000000000002 385.2H1860.0M1854.8000000000002 443.7H1860.0"/>
<path d="M1879.6 405.2V444.8M1877.0 405.2H1882.1999999999998M1877.0 444.8H1882.1999999999998"/>
<path d="M1907.4 292.2V364.1M1904.8000000000002 292.2H1910.0M1904.8000000000002 364.1H1910.0"/>
<path d="M1929.6 309.6V364.1M1927.0 309.6H1932.1999999999998M1927.0 364.1H1932.1999999999998"/>
<path d="M1957.8 207.4V281.5M1955.2 207.4H1960.3999999999999M1955.2 281.5H1960.3999999999999"/>
<path d="M1980 208.5V280.7M1977.4 208.5H1982.6M1977.4 280.7H1982.6"/>
<path d="M1485 610.3H1490M1508 611.8H1512.5M1755 600.4H1759.5M1777.5 612H1782"/>
</g>
<line x1="1695.8" y1="663.4" x2="1708.7" y2="663.4" stroke="#333" stroke-width="1.3"/>
<rect x="1462.4" y="159.3" width="27.1" height="26.7" fill="#F8766D"/>
<rect x="1462.4" y="188.9" width="27.1" height="26.7" fill="#00BFC4"/>
<text x="1498.98" y="182.20" font-size="26.7" textLength="123.17" lengthAdjust="spacingAndGlyphs" fill="#000">Measured</text>
<text x="1500.65" y="211.40" font-size="26.7" textLength="135.38" lengthAdjust="spacingAndGlyphs" fill="#000">Theoretical</text>
<text transform="translate(1422.10,442.90) rotate(-90)" x="-2.21" y="0" font-size="27.5" textLength="124.18" lengthAdjust="spacingAndGlyphs" fill="#000">Motile (%)</text>
<text x="1661.93" y="701.80" font-size="29.8" textLength="164.39" lengthAdjust="spacingAndGlyphs" fill="#000">Motility ratio</text>
</svg>
</body></html>
